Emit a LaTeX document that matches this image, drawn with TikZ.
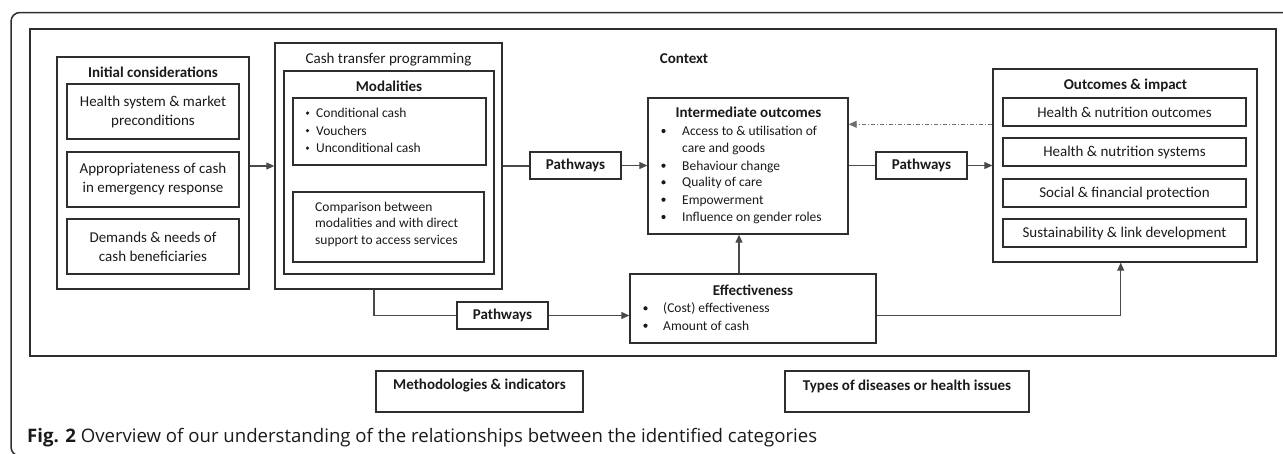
\documentclass[tikz,border=0pt]{standalone}
\usepackage{fontspec}
\setmainfont{Carlito}
\newfontfamily\capfont{Open Sans}
\usetikzlibrary{arrows.meta}
\definecolor{boxc}{HTML}{2E2E2E}
\definecolor{linec}{HTML}{4A4A4A}
\definecolor{txtc}{HTML}{1A1A1A}
\begin{document}
\begin{tikzpicture}[x=1pt,y=-1pt,
  box/.style n args={2}{draw=boxc,line width=1.3pt,minimum width=#1,minimum height=#2,inner sep=0pt,align=center,text=txtc},
  big/.style={font=\fontsize{15}{19}\selectfont,text=txtc},
  bigb/.style={font=\fontsize{15}{19}\selectfont\bfseries,text=txtc},
  small/.style={font=\fontsize{13.5}{16.7}\selectfont,text=txtc,inner sep=0pt},
  dot/.style={circle,fill=txtc,inner sep=0pt,minimum size=4.2pt},
  conn/.style={draw=linec,line width=1.1pt},
  arr/.style={conn,-{Triangle[length=8pt,width=7pt]}},
  dd/.style={draw=linec!80,line width=1pt,dash pattern=on 4pt off 2pt on 1pt off 2pt},
]
\useasboundingbox (0,0) rectangle (1283,453);
% outer figure frame
\draw[draw=boxc,line width=1.5pt,rounded corners=9pt] (40,456) -- (11,456) -- (11,12.5) -- (1300,12.5);

% context
\node[box={1246}{327}] (ctx) at (653,192.5) {};
\node[bigb] (ctxl) at (684,59) {Context};

% initial considerations
\node[box={192}{232}] (init) at (153,173) {};
\node[bigb] (initt) at (153,72) {Initial considerations};
\node[box={172}{55},big] (hs) at (153,111.5) {Health system \& market\\preconditions};
\node[box={172}{55},big] (app) at (153,179.5) {Appropriateness of cash\\in emergency response};
\node[box={172}{55},big] (dem) at (153,246.5) {Demands \& needs of\\cash beneficiaries};

% cash transfer programming
\node[box={227}{246}] (ctp) at (388.5,166) {};
\node[big] (ctpt) at (388.5,60) {Cash transfer programming};
\node[box={210}{203}] (mod) at (389,172.5) {};
\node[bigb] (modt) at (389,86) {Modalities};
\node[box={193}{67}] (bul) at (389.5,131.5) {};
\foreach \t [count=\i] in {Conditional cash, Vouchers, Unconditional cash} {
  \node[small,anchor=base west] (mt\i) at (316,{117.5+17.5*(\i-1)}) {\t};
  \node[dot,minimum size=3.5pt] (md\i) at (307.5,{113+17.5*(\i-1)}) {};
}
\node[box={191}{70}] (cmp) at (388.5,227) {};
\foreach \t [count=\i] in {Comparison between, modalities and with direct, support to access services} {
  \node[small,anchor=base west] (ct\i) at (315,{211.2+16.7*(\i-1)}) {\t};
}

% pathways 1
\node[box={91}{27},bigb] (pw1) at (575.5,165.5) {Pathways};

% intermediate outcomes
\node[box={200}{136}] (io) at (748,166) {};
\node[bigb] (iot) at (748.5,112.7) {Intermediate outcomes};
\node[small,anchor=base west] (it1) at (682,135.5) {Access to \& utilisation of};
\node[small,anchor=base west] (it1b) at (682,152.2) {care and goods};
\node[small,anchor=base west] (it2) at (682,170.2) {Behaviour change};
\node[small,anchor=base west] (it3) at (682,186.8) {Quality of care};
\node[small,anchor=base west] (it4) at (682,204.2) {Empowerment};
\node[small,anchor=base west] (it5) at (682,221.5) {Influence on gender roles};
\foreach \yy [count=\i] in {131,165.7,182.3,199.7,217} {
  \node[dot] (id\i) at (663.5,\yy) {};
}

% pathways 2
\node[box={91}{27},bigb] (pw2) at (921.5,165.5) {Pathways};

% outcomes & impact
\node[box={264}{193}] (oi) at (1125,165.5) {};
\node[bigb] (oit) at (1125.5,85) {Outcomes \& impact};
\node[box={243}{28},big] (o1) at (1124.5,112) {Health \& nutrition outcomes};
\node[box={243}{28},big] (o2) at (1124.5,152) {Health \& nutrition systems};
\node[box={243}{28},big] (o3) at (1124.5,193) {Social \& financial protection};
\node[box={243}{28},big] (o4) at (1124.5,233) {Sustainability \& link development};

% effectiveness
\node[box={246}{69}] (eff) at (753,308.5) {};
\node[bigb] (efft) at (753,290.7) {Effectiveness};
\node[small,anchor=base west] (et1) at (663,312.8) {(Cost) effectiveness};
\node[small,anchor=base west] (et2) at (663,330.2) {Amount of cash};
\node[dot] (ed1) at (645.5,308.3) {};
\node[dot] (ed2) at (645.5,325.7) {};

% pathways 3
\node[box={91}{27},bigb] (pw3) at (502.5,315.5) {Pathways};

% bottom boxes
\node[box={207}{41}] (meth) at (479.5,391.5) {};
\node[bigb] (metht) at (479.5,386) {Methodologies \& indicators};
\node[box={244}{41}] (types) at (907,391.5) {};
\node[bigb] (typest) at (907,386) {Types of diseases or health issues};

% caption
\node[anchor=base west,inner sep=0pt,text=txtc,font=\capfont\fontsize{18.6}{22}\selectfont] (cap) at (27,442)
  {\textbf{Fig. 2} Overview of our understanding of the relationships between the identified categories};

% connectors
\draw[arr] (init.east |- ctp.west) -- (ctp.west);
\draw[conn] (ctp.east) -- (ctp.east -| pw1.west);
\draw[arr] (pw1.east) -- (pw1.east -| io.west);
\draw[conn] (io.east |- pw2.west) -- (pw2.west);
\draw[arr] (pw2.east) -- (pw2.east -| oi.west);
\coordinate (dsrc) at ([yshift=41.2pt]oi.west);
\draw[dd,-{Triangle[length=8pt,width=7pt]}] (dsrc) -- (dsrc -| io.east);
\draw[conn] ([xshift=-14.5pt]ctp.south) |- (pw3.west);
\draw[arr] (pw3.east) -- (pw3.east -| eff.west);
\draw[arr] ([xshift=-14pt]eff.north) -- ([xshift=-14pt]eff.north |- io.south);
\draw[arr] (eff.east |- pw3.east) -| ([xshift=-4.3pt]oi.south);
\end{tikzpicture}
\end{document}
